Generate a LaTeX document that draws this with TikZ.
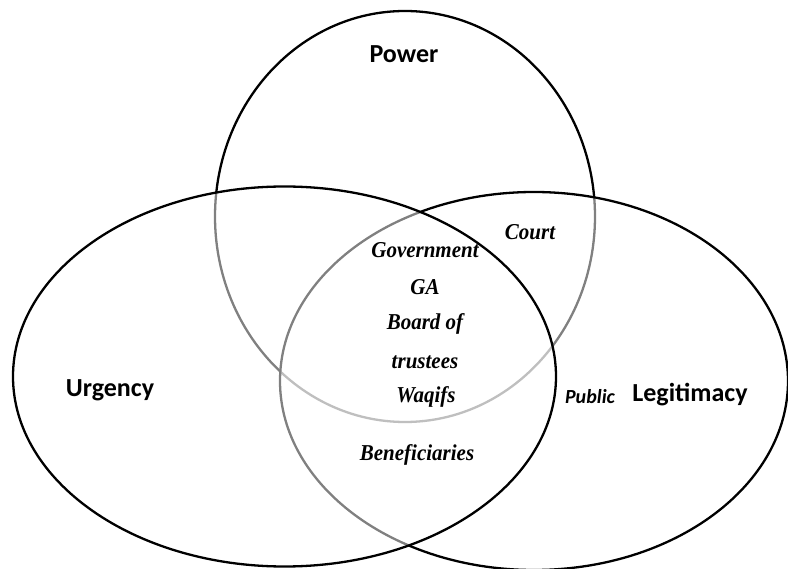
\documentclass[tikz,border=0pt]{standalone}
\usepackage{fontspec}
\setmainfont{Liberation Serif}
\newfontfamily\labelfont{Carlito}
\begin{document}
\begin{tikzpicture}[x=1pt,y=-1pt,
  ring/.style={line width=2.3pt,draw=black},
  veil/.style={ring,fill=white,fill opacity=0.5},
  setname/.style={font=\labelfont\bfseries\fontsize{26}{30}\selectfont,inner sep=0pt},
  member/.style={font=\bfseries\itshape\fontsize{21}{25}\selectfont,inner sep=0pt,yscale=1.08,transform shape},
  smallmember/.style={font=\labelfont\bfseries\itshape\fontsize{20}{24}\selectfont,inner sep=0pt}]
\useasboundingbox (0,0) rectangle (788,569);
% the three stakeholder attributes
\draw[ring] (405,216.5) ellipse [x radius=190,y radius=205.5];
\draw[veil] (534,381) ellipse [x radius=254,y radius=189];
\draw[veil] (284.5,376.5) ellipse [x radius=271.5,y radius=190];
% attribute names
\node[setname] (power) at (404,54) {Power};
\node[setname] (urgency) at (110,390) {Urgency};
\node[setname] (legit) at (690,395) {Legitimacy};
% stakeholders
\node[smallmember] (public) at (590,397) {Public};
\node[member] (court) at (530,232) {Court};
\node[member] (gov) at (425,250) {Government};
\node[member] (ga) at (425,287) {GA};
\node[member] (board) at (425,324) {Board of};
\node[member] (trust) at (425,362) {trustees};
\node[member] (waqif) at (426,397) {Waqifs};
\node[member] (benef) at (417,455) {Beneficiaries};
\end{tikzpicture}
\end{document}
